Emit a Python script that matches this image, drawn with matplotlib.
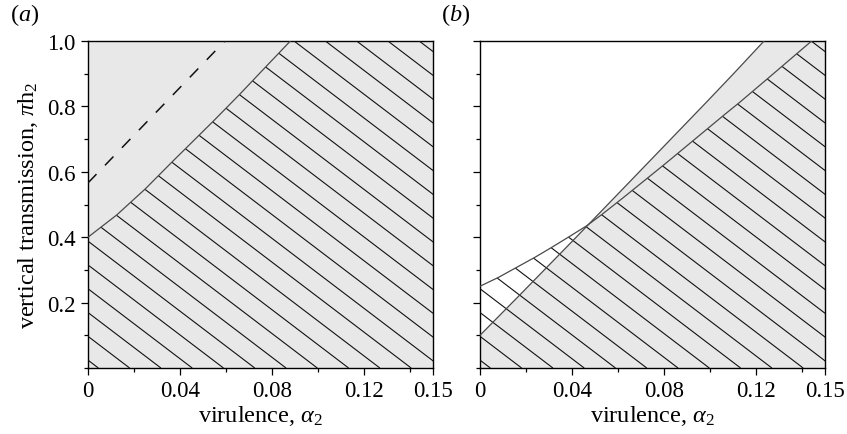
import matplotlib
matplotlib.use("Agg")
import matplotlib.pyplot as plt
import numpy as np
from matplotlib.patches import Polygon
from matplotlib.collections import LineCollection
from matplotlib.ticker import MultipleLocator

plt.rcParams['font.family'] = ['Liberation Serif', 'DejaVu Serif']
plt.rcParams['mathtext.fontset'] = 'custom'
plt.rcParams['mathtext.rm'] = 'Liberation Serif'
plt.rcParams['mathtext.it'] = 'Liberation Serif:italic'
plt.rcParams['mathtext.bf'] = 'Liberation Serif:bold'

# ---- data ----
x_range = [0.0, 0.15]
y_range = [0.0, 1.0]
x_ticks = [0, 0.04, 0.08, 0.12, 0.15]
x_ticklabels = ['0', '0.04', '0.08', '0.12', '0.15']
y_ticks = [0.2, 0.4, 0.6, 0.8, 1.0]
y_ticklabels = ['0.2', '0.4', '0.6', '0.8', '1.0']

# panel (a): boundary of hatched region
a_bound_x = [0.0, 0.0125, 0.0248, 0.0371, 0.0545, 0.0661, 0.0777, 0.088]
a_bound_y = [0.40, 0.468, 0.547, 0.634, 0.755, 0.838, 0.924, 1.0]
# panel (a): dashed line
a_dash_x = [0.0, 0.0595]
a_dash_y = [0.566, 1.0]

# panel (b): boundary of hatched region (curve)
b_hatch_x = [0.0, 0.008, 0.016, 0.024, 0.0312, 0.0391, 0.0464, 0.0529, 0.0623,
             0.0806, 0.1065, 0.113, 0.1254, 0.1377, 0.1442]
b_hatch_y = [0.25, 0.277, 0.308, 0.339, 0.369, 0.403, 0.435, 0.469, 0.521,
             0.625, 0.776, 0.813, 0.887, 0.961, 1.0]
# panel (b): boundary of grey region (line)
b_gray_x = [0.0, 0.0174, 0.0399, 0.0594, 0.0986, 0.1101, 0.1235]
b_gray_y = [0.10, 0.224, 0.386, 0.528, 0.814, 0.899, 1.0]

# ---- style ----
FILL = '#e8e8e9'
EDGE = '#4a4a4a'
HATCH_SLOPE = 5.35       # data units (lines fall to the right)
HATCH_STEP = 0.0136      # spacing along y=0
HATCH_OFF = 0.0045
FS_TICK = 16.5
FS_LABEL = 17.5

W, H = 847, 435
fig = plt.figure(figsize=(W / 100, H / 100), dpi=100)
axA = fig.add_axes([88 / W, (H - 369) / H, 345 / W, 327 / H])
axB = fig.add_axes([480 / W, (H - 369) / H, 345 / W, 327 / H])


def region(xs, ys):
    return list(zip(xs, ys)) + [(x_range[1], y_range[1]), (x_range[1], y_range[0]),
                                (x_range[0], y_range[0])]


def hatch(ax, pts):
    poly = Polygon(pts, closed=True, facecolor='none', edgecolor='none')
    ax.add_patch(poly)
    segs = []
    x0 = HATCH_OFF - 30 * HATCH_STEP
    while x0 < 0.5:
        segs.append([(x0, 0.0), (x0 - 1.0 / HATCH_SLOPE, 1.0)])
        x0 += HATCH_STEP
    lc = LineCollection(segs, colors='#111111', linewidths=0.8, zorder=3)
    ax.add_collection(lc)
    lc.set_clip_path(poly)


# panel a
axA.add_patch(Polygon([(0, 0), (0.15, 0), (0.15, 1), (0, 1)], closed=True,
                      facecolor=FILL, edgecolor='none', zorder=1))
hatch(axA, region(a_bound_x, a_bound_y))
axA.plot(a_bound_x, a_bound_y, color=EDGE, lw=0.9, zorder=4)
axA.plot(a_dash_x, a_dash_y, color='#111111', lw=1.1, dashes=(8, 8), zorder=4)

# panel b
axB.add_patch(Polygon(region(b_gray_x, b_gray_y), closed=True,
                      facecolor=FILL, edgecolor='none', zorder=1))
hatch(axB, region(b_hatch_x, b_hatch_y))
axB.plot(b_hatch_x, b_hatch_y, color=EDGE, lw=0.9, zorder=4)
axB.plot(b_gray_x, b_gray_y, color=EDGE, lw=0.9, zorder=4)

for ax in (axA, axB):
    ax.set_xlim(x_range)
    ax.set_ylim(y_range)
    ax.set_xticks(x_ticks)
    ax.set_xticklabels(x_ticklabels)
    ax.set_yticks(y_ticks)
    ax.xaxis.set_minor_locator(MultipleLocator(0.02))
    ax.yaxis.set_minor_locator(MultipleLocator(0.1))
    ax.tick_params(which='major', direction='out', length=5, width=0.9,
                   labelsize=FS_TICK, top=False, right=False, pad=4)
    ax.tick_params(which='minor', direction='out', length=3, width=0.9,
                   top=False, right=False)
    for s in ax.spines.values():
        s.set_linewidth(1.0)
    ax.set_xlabel(r'virulence, $\alpha_2$', fontsize=FS_LABEL, labelpad=1)

axA.set_yticklabels(y_ticklabels)
axB.set_yticklabels([])
axA.set_ylabel(r'vertical transmission, $\pi\mathrm{h}_2$', fontsize=FS_LABEL, labelpad=5)

fig.text(10 / W, 1 - 15 / H, r'($\mathit{a}$)', fontsize=FS_LABEL, va='center', ha='left')
fig.text(441 / W, 1 - 15 / H, r'($\mathit{b}$)', fontsize=FS_LABEL, va='center', ha='left')

fig.savefig('out.png', dpi=100)
